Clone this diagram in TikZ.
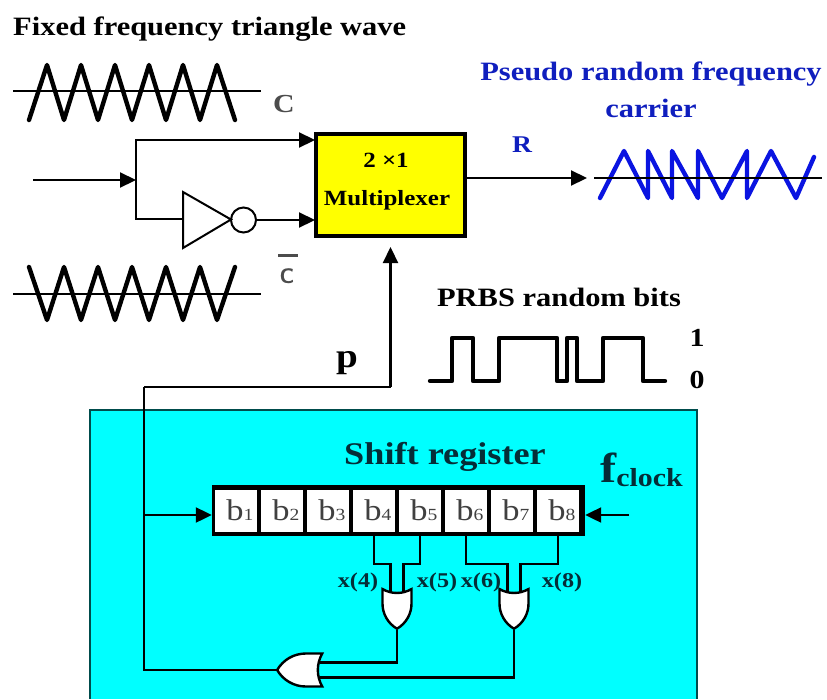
\documentclass[tikz,border=0pt]{standalone}
\usepackage{fontspec}
\setmainfont[FakeStretch=1.15]{Liberation Serif}
\usetikzlibrary{arrows.meta, shapes.gates.logic.US}
\newcommand{\fs}[1]{\fontsize{#1}{#1}\selectfont}
\definecolor{bluewave}{RGB}{10,20,225}
\definecolor{bluetext}{RGB}{15,30,190}
\definecolor{regbg}{RGB}{0,255,255}
\definecolor{muxbg}{RGB}{255,255,0}
\definecolor{regtext}{RGB}{5,45,55}
\tikzset{
	sig/.style={line width=2.2pt, -{Triangle[length=16pt,width=15pt]}},
	wire/.style={line width=2.2pt},
	axis/.style={line width=2.8pt},
	wave/.style={line width=4.4pt, line cap=round, line join=round},
	lbl/.style={font=\bfseries\fs{#1}, inner sep=0pt, anchor=base},
	cell/.style={fill=white, minimum width=42pt, minimum height=42pt, inner sep=0pt, font=\fs{30}, text=black!75},
	orgate/.style={or gate US, draw, line width=2.4pt, fill=white, logic gate inputs=nn, minimum width=36pt, minimum height=29pt, inner sep=0pt, logic gate input sep=9.67pt}
}
\begin{document}
\begin{tikzpicture}[x=1pt,y=-1pt]
	\useasboundingbox (0,0) rectangle (827,699);
	\fill[regbg] (90,410) rectangle (697,699);
	\draw[line width=1.4pt, black!70!regbg] (90,699) |- (697,410) -- (697,699);
	\node[lbl=26.5, anchor=base west] (title) at (13,35) {Fixed frequency triangle wave};
	\node[lbl=26.5, text=bluetext] (pseudo) at (651,80) {Pseudo random frequency};
	\node[lbl=26.5, text=bluetext] (carrier) at (651,117) {carrier};
	\node[lbl=24, text=bluetext] (rout) at (522,152) {R};
	\node[lbl=26, text=black!70] (cup) at (284,112) {C};
	\node[font=\sffamily\bfseries\fs{21}, inner sep=0pt, anchor=base, text=black!70] (cdown) at (287,283) {\rlap{\hspace{-1.5pt}\rule[26.5pt]{20pt}{2.5pt}}C};
	\node[lbl=26.5] (prbs) at (559,306) {PRBS random bits};
	\node[lbl=34] (plabel) at (347,367) {p};
	\node[lbl=26] (one) at (697,346) {1};
	\node[lbl=26] (zero) at (697,388) {0};
	\node[lbl=31.5, text=regtext] (shift) at (445,464) {Shift register};
	\node[lbl=26, anchor=base west, text=regtext] (fclock) at (600,482) {{\fs{42}f}\raisebox{-4pt}{clock}};
	% triangle waves
	\draw[axis] (13,91) -- (261,91);
	\draw[wave] (29,120) -- (47,65) -- (64,120) -- (81,65) -- (98,120) -- (115,65) -- (132,120) -- (149,65) -- (166,120) -- (183,65) -- (200,120) -- (217,65) -- (235,120);
	\draw[axis] (13,294) -- (261,294);
	\draw[wave] (29,267) -- (47,320) -- (64,267) -- (81,320) -- (98,267) -- (115,320) -- (132,267) -- (149,320) -- (166,267) -- (183,320) -- (200,267) -- (217,320) -- (235,267);
	\draw[wave, bluewave] (600,198) -- (624,151) -- (648,198) -- (648,151) -- (672,198) -- (672,151) -- (698,198) -- (698,151) -- (722,198) -- (747,151) -- (747,198) -- (771,151) -- (796,198) -- (814,157);
	\draw[axis] (594,178) -- (822,178);
	\draw[wave] (430,381) -- (452,381) -- (452,338) -- (473,338) -- (473,381) -- (499,381) -- (499,338) -- (557,338) -- (557,381) -- (567,381) -- (567,338) -- (577,338) -- (577,381) -- (603,381) -- (603,338) -- (643,338) -- (643,381) -- (665,381);
	% multiplexer
	\node[draw, line width=4pt, fill=muxbg, minimum width=149pt, minimum height=102pt, inner sep=0pt] (mux) at (390.5,185) {};
	\node[lbl=21.7] (muxa) at (386,167) {2 ×1};
	\node[lbl=21.7] (muxb) at (387,205) {Multiplexer};
	\coordinate (in) at (33,180);
	\coordinate (split) at (136,180);
	\coordinate (muxtop) at (315,140);
	\coordinate (muxlow) at (315,219);
	\coordinate (invin) at (183,219);
	\coordinate (muxout) at (466,178);
	\coordinate (carrierin) at (587,178);
	\coordinate (muxsel) at (390.5,247);
	\draw[sig] (in) -- (split);
	\draw[sig] (split) |- (muxtop);
	\draw[wire] (split) |- (invin);
	\draw[line width=2pt, fill=white] (183,192) -- (231,219.5) -- (183,248) -- cycle;
	\node[draw, circle, line width=2pt, minimum size=25pt, inner sep=0pt] (bubble) at (243.5,220) {};
	\draw[sig] (bubble.east) -- (bubble.east -| muxlow);
	\draw[sig] (muxout) -- (carrierin);
	% shift register
	\node[fill=black, minimum width=373pt, minimum height=51pt, inner sep=0pt] (reg) at (398.5,510.5) {};
	\foreach \i in {1,...,8}
		\node[cell] (b\i) at ({190+46*\i},510.5) {\hspace{8pt}b{\fs{17}\i}};
	\coordinate (datain) at (144,515);
	\coordinate (clockin) at (629,515);
	\draw[sig] (clockin) -- (clockin -| reg.east);
	\draw[sig] (datain) -- (datain -| reg.west);
	% or gates
	\node[orgate, rotate=-90] (xa) at (397,606) {};
	\node[orgate, rotate=-90] (xb) at (514,606) {};
	\node[orgate, rotate=180, minimum width=40pt, minimum height=33pt, logic gate input sep=11pt] (xc) at (303,670) {};
	\draw[wire] (b4 |- reg.south) -- ++(0,28) -| ([xshift=-1.7pt]xa.input 2);
	\draw[wire] (b5 |- reg.south) -- ++(0,28) -| ([xshift=1.7pt]xa.input 1);
	\draw[wire] (b6 |- reg.south) -- ++(0,28) -| ([xshift=-1.7pt]xb.input 2);
	\draw[wire] (b8 |- reg.south) -- ++(0,28) -| ([xshift=1.7pt]xb.input 1);
	\draw[wire] (xa.output) |- ([yshift=2pt]xc.input 2);
	\draw[wire] (xb.output) |- ([yshift=-2pt]xc.input 1);
	\node[lbl=21, text=regtext] (xfour) at (358,587) {x(4)};
	\node[lbl=21, text=regtext] (xfive) at (437,587) {x(5)};
	\node[lbl=21, text=regtext] (xsix) at (481,587) {x(6)};
	\node[lbl=21, text=regtext] (xeight) at (562,587) {x(8)};
	% feedback
	\coordinate (fbl) at (144,387);
	\coordinate (fbr) at (390.5,387);
	\draw[wire] (xc.output) -| (fbl);
	\draw[wire] (fbl) -- (fbr);
	\draw[sig] (fbr) -- (muxsel);
\end{tikzpicture}
\end{document}
